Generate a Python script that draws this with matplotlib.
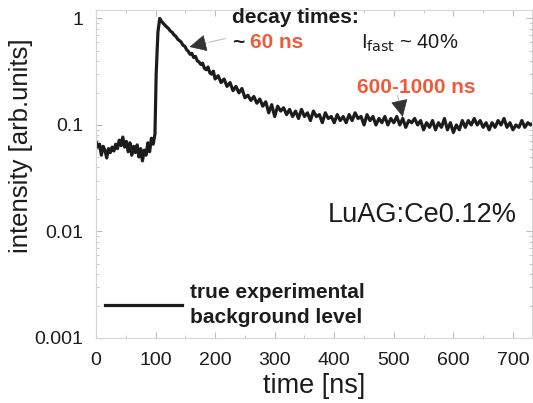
import matplotlib
matplotlib.use("Agg")
import matplotlib.pyplot as plt

plt.rcParams["font.family"] = ["Liberation Sans", "DejaVu Sans"]

TIME = [
    0, 3, 6, 9, 12, 15, 18, 21, 24, 27, 30, 33, 36, 39, 42, 45, 48, 51, 54, 57,
    60, 63, 66, 69, 72, 75, 78, 81, 84, 87, 90, 93, 96, 99,
    101, 104, 107, 110, 113, 116, 119, 122, 125, 128, 131, 134, 137, 140, 143,
    146, 149, 152, 155, 158, 161, 164, 167, 170, 173, 176, 179, 182, 185, 188,
    191, 194, 197,
    200, 205, 210, 215, 220, 225, 230, 235, 240, 245, 250, 255, 260, 265, 270,
    275, 280, 285, 290, 295, 300, 305, 310, 315, 320, 325, 330, 335, 340, 345,
    350, 355, 360, 365, 370, 375, 380, 385, 390, 395, 400, 405, 410, 415, 420,
    425, 430, 435, 440, 445, 450, 455, 460, 465, 470, 475, 480, 485, 490, 495,
    500, 505, 510, 515, 520, 525, 530, 535, 540, 545, 550, 555, 560, 565, 570,
    575, 580, 585, 590, 595, 600, 605, 610, 615, 620, 625, 630, 635, 640, 645,
    650, 655, 660, 665, 670, 675, 680, 685, 690, 695, 700, 705, 710, 715, 720,
    725, 730, 735,
]
INTENSITY = [
    0.070, 0.062, 0.066, 0.052, 0.063, 0.058, 0.049, 0.060, 0.055, 0.062,
    0.057, 0.066, 0.060, 0.072, 0.064, 0.077, 0.062, 0.070, 0.056, 0.068,
    0.052, 0.063, 0.055, 0.065, 0.050, 0.060, 0.046, 0.058, 0.052, 0.068,
    0.056, 0.075, 0.066, 0.082,
    0.30, 0.75, 1.00, 0.94, 0.90, 0.86, 0.83, 0.80, 0.76, 0.74, 0.70, 0.68,
    0.64, 0.62, 0.60, 0.56, 0.55, 0.51, 0.49, 0.46, 0.47, 0.43, 0.44, 0.40,
    0.39, 0.37, 0.38, 0.34, 0.33, 0.35, 0.31, 0.30, 0.32,
    0.27, 0.29, 0.25, 0.27, 0.23, 0.25, 0.21, 0.23, 0.20, 0.22, 0.18, 0.19,
    0.17, 0.185, 0.16, 0.175, 0.15, 0.165, 0.13, 0.155, 0.12, 0.15, 0.135,
    0.145, 0.125, 0.14, 0.12, 0.135, 0.115, 0.14, 0.12, 0.13, 0.11, 0.135,
    0.12, 0.125, 0.105, 0.13, 0.115, 0.12, 0.105, 0.125, 0.11, 0.12, 0.105,
    0.125, 0.11, 0.13, 0.115, 0.12, 0.10, 0.125, 0.11, 0.12, 0.10, 0.115,
    0.105, 0.12, 0.10, 0.115, 0.105, 0.12, 0.10, 0.115, 0.095, 0.11, 0.105,
    0.115, 0.10, 0.11, 0.09, 0.105, 0.095, 0.11, 0.09, 0.105, 0.095, 0.115,
    0.09, 0.105, 0.085, 0.10, 0.09, 0.11, 0.095, 0.11, 0.10, 0.115, 0.10,
    0.11, 0.095, 0.105, 0.09, 0.105, 0.095, 0.11, 0.10, 0.115, 0.095, 0.105,
    0.09, 0.10, 0.095, 0.11, 0.095, 0.105, 0.10, 0.105,
]

RED = "#f05a3c"
INK = "#1c1c1c"

W, H = 533, 403
fig = plt.figure(figsize=(W / 100, H / 100), dpi=100)
ax = fig.add_axes([96 / W, 1 - 338 / H, 436 / W, 328 / H])

ax.plot(TIME, INTENSITY, color=INK, lw=2.3, solid_joinstyle="round")

ax.set_yscale("log")
ax.set_ylim(0.001, 1.2)
ax.set_xlim(0, 732)
ax.set_xticks(range(0, 701, 100))
ax.set_xticks(range(0, 731, 50), minor=True)
ax.set_yticks([0.001, 0.01, 0.1, 1])
ax.set_yticklabels(["0.001", "0.01", "0.1", "1"])
for s in ax.spines.values():
    s.set_color("#d6d6d6")
    s.set_linewidth(0.8)
ax.tick_params(which="both", direction="in", color="#bdbdbd", top=True,
               right=True, labelsize=14, labelcolor=INK)
ax.tick_params(which="major", length=4)
ax.tick_params(which="minor", length=2.5)
ax.tick_params(axis="x", pad=10)
ax.tick_params(axis="y", pad=9)

ax.set_xlabel("time [ns]", fontsize=19.5, color=INK, labelpad=3)
ax.set_ylabel("intensity [arb.units]", fontsize=18.5, color=INK)
ax.yaxis.set_label_coords(-0.145, 0.585)


def px(x, y):
    return x / W, 1 - y / H


kw = dict(transform=fig.transFigure, va="baseline", ha="left")
fig.text(*px(232, 23), "decay times:", fontsize=15, fontweight="bold",
         color=INK, **kw)
fig.text(*px(232, 48), "~", fontsize=15, fontweight="bold", color=INK, **kw)
fig.text(*px(250, 48), "60 ns", fontsize=15, fontweight="bold", color=RED,
         **kw)
fig.text(*px(361, 49), r"I$_{\mathrm{fast}}$ ~ 40%", fontsize=14.5,
         color=INK, **kw)
fig.text(*px(357, 93), "600-1000 ns", fontsize=15, fontweight="bold",
         color=RED, **kw)
fig.text(*px(328, 222), "LuAG:Ce0.12%", fontsize=19.5, color=INK, **kw)

# arrows: thin grey shaft, dark head
for tail, base, tip in [((222, 0.656), (185, 0.59), (157, 0.54)),
                        ((505, 0.20), (510, 0.16), (515, 0.119))]:
    ax.annotate("", xy=base, xytext=tail,
                arrowprops=dict(arrowstyle="-", color="#b8c0c8", lw=0.8))
    ax.annotate("", xy=tip, xytext=base,
                arrowprops=dict(arrowstyle="-|>,head_length=1.1,head_width=0.55",
                                color="#333333", lw=0.5, shrinkA=0, shrinkB=0))

# background-level legend sample
ax.plot([], [], color=INK, lw=2.3, label="true experimental\nbackground level")
leg = ax.legend(loc="center left", bbox_to_anchor=((105 - 96) / 436, (338 - 305) / 328),
                frameon=False, borderpad=0, borderaxespad=0,
                handlelength=3.7, handletextpad=0.4,
                prop=dict(size=15, weight="bold"))
for t in leg.get_texts():
    t.set_color(INK)
    t.set_linespacing(1.35)

fig.savefig("out.png", dpi=100)
